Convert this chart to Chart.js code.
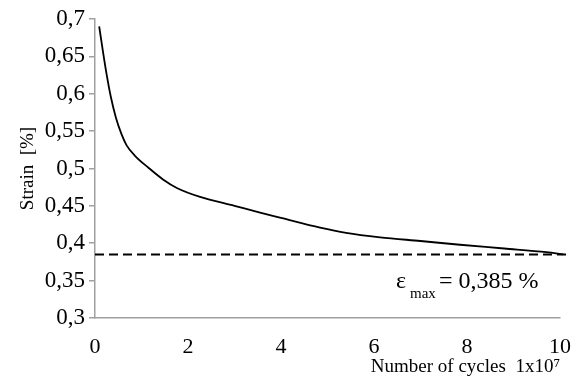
<!DOCTYPE html>
<html>
<head>
<meta charset="utf-8">
<script src="https://cdn.jsdelivr.net/npm/chart.js@4.4.1/dist/chart.umd.min.js"></script>
<style>
    html, body { margin: 0; padding: 0; background: #fff; }
    #wrap { width: 584px; height: 378px; position: relative; }
</style>
</head>
<body>
<div id="wrap"><canvas id="strainChart"></canvas></div>
<script>
// number of cycles (x 10^7) and measured strain [%]
const cycles = [0.09, 0.17, 0.25, 0.34, 0.45, 0.57, 0.68, 0.86, 1.15, 1.47, 1.76, 2.26, 3.0, 3.55, 4.0, 4.84, 5.4, 6.13, 7.0, 7.85, 8.8, 9.71, 10.07];
const strain = [0.690, 0.657, 0.626, 0.596, 0.568, 0.546, 0.531, 0.517, 0.501, 0.485, 0.474, 0.462, 0.450, 0.441, 0.434, 0.421, 0.414, 0.408, 0.403, 0.398, 0.393, 0.388, 0.385];

// maximum strain level (dashed reference)
const strainMax = 0.385;
const strainMaxRange = [0, 10.15];

const xTicks = [0, 2, 4, 6, 8, 10];
const yTicks = [0.3, 0.35, 0.4, 0.45, 0.5, 0.55, 0.6, 0.65, 0.7];

const serif = '"Liberation Serif", "Times New Roman", serif';
const axisGray = '#a0a0a0';

const curvePoints = cycles.map((c, i) => ({ x: c, y: strain[i] }));
const maxPoints = strainMaxRange.map(c => ({ x: c, y: strainMax }));

// comma as decimal separator
function commaNum(v) {
    return String(Math.round(v * 1000) / 1000).replace('.', ',');
}

const epsLabel = {
    id: 'epsLabel',
    afterDraw(chart) {
        const ctx = chart.ctx;
        ctx.save();
        ctx.fillStyle = '#000';
        ctx.textBaseline = 'alphabetic';
        ctx.textAlign = 'left';
        ctx.font = '24px ' + serif;
        ctx.fillText('\u03b5', 396, 288);
        ctx.font = '15px ' + serif;
        ctx.fillText('max', 410, 298);
        ctx.font = '24px ' + serif;
        ctx.fillText('= 0,385 %', 439, 288);
        ctx.restore();
    }
};

function createStrainChart() {
    const ctx = document.getElementById('strainChart').getContext('2d');

    new Chart(ctx, {
        type: 'scatter',
        data: {
            datasets: [{
                label: 'Strain',
                data: curvePoints,
                showLine: true,
                borderColor: '#000',
                borderWidth: 1.8,
                pointRadius: 0,
                cubicInterpolationMode: 'monotone',
                clip: false,
            }, {
                label: 'max',
                data: maxPoints,
                showLine: true,
                borderColor: '#000',
                borderWidth: 2,
                borderDash: [9, 5],
                pointRadius: 0,
                clip: false,
            }]
        },
        options: {
            responsive: true,
            maintainAspectRatio: false,
            animation: false,
            layout: {
                padding: { top: 19, right: 24, left: 0, bottom: 0 }
            },
            plugins: {
                legend: { display: false },
                tooltip: { enabled: false },
            },
            scales: {
                x: {
                    type: 'linear',
                    min: 0,
                    max: 10,
                    afterBuildTicks: scale => { scale.ticks = xTicks.map(v => ({ value: v })); },
                    afterFit: scale => { scale.height = 60; },
                    grid: { display: false, drawOnChartArea: false, drawTicks: true, tickLength: 6, color: axisGray, lineWidth: 1.5 },
                    border: { display: true, color: axisGray, width: 1.5 },
                    ticks: {
                        color: '#000',
                        padding: 10,
                        maxRotation: 0,
                        font: { family: serif, size: 22 },
                    },
                    title: {
                        display: true,
                        text: 'Number of cycles  1x10\u2077',
                        align: 'end',
                        color: '#000',
                        padding: { top: 0, bottom: 0 },
                        font: { family: serif, size: 19 },
                    },
                },
                y: {
                    min: 0.3,
                    max: 0.7,
                    afterBuildTicks: scale => { scale.ticks = yTicks.map(v => ({ value: v })); },
                    afterFit: scale => { scale.width = 95; },
                    grid: { display: true, drawOnChartArea: false, drawTicks: true, tickLength: 6, color: axisGray, lineWidth: 1.5 },
                    border: { display: true, color: axisGray, width: 1.5 },
                    ticks: {
                        color: '#000',
                        padding: 4,
                        callback: v => commaNum(v),
                        font: { family: serif, size: 23 },
                    },
                    title: {
                        display: true,
                        text: 'Strain  [%]',
                        color: '#000',
                        padding: { top: 17, bottom: 0 },
                        font: { family: serif, size: 19 },
                    },
                },
            },
        },
        plugins: [epsLabel],
    });
}

document.addEventListener('DOMContentLoaded', () => {
    createStrainChart();
});
</script>
</body>
</html>
